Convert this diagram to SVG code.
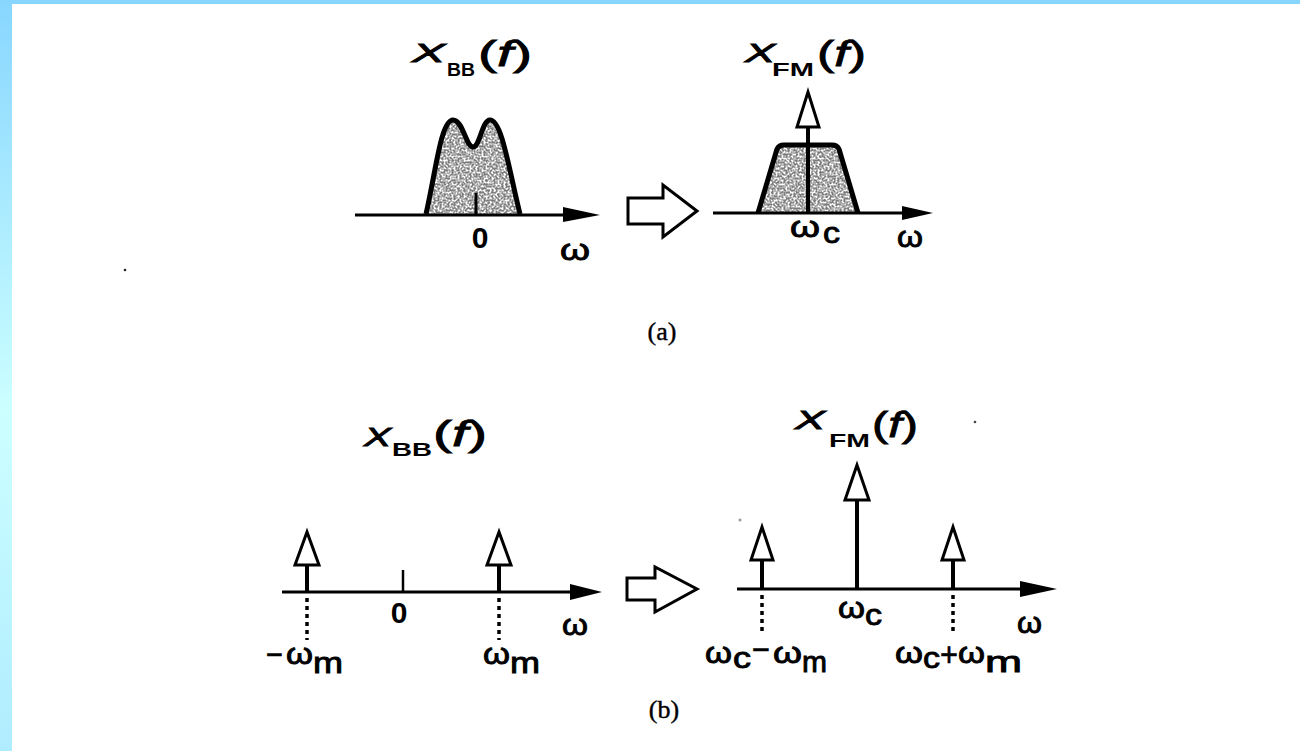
<svg xmlns="http://www.w3.org/2000/svg" width="1300" height="751" viewBox="0 0 1300 751">
<defs>
<linearGradient id="side" x1="0" y1="0" x2="0" y2="1">
<stop offset="0" stop-color="#88d6ff"/>
<stop offset="0.55" stop-color="#ccffff"/>
<stop offset="1" stop-color="#b0ecff"/>
</linearGradient>
<filter id="stip" x="0" y="0" width="1" height="1">
<feTurbulence type="fractalNoise" baseFrequency="0.5" numOctaves="2" seed="3" result="n"/>
<feColorMatrix in="n" type="matrix" values="0 0 0 0 0.2  0 0 0 0 0.2  0 0 0 0 0.2  0 0 0 -3.2 2.2" result="d"/>
<feComposite in="d" in2="SourceGraphic" operator="in"/>
</filter>
</defs>
<style>
.ax{stroke:#000;stroke-width:3;fill:none}
.stem{stroke:#000;stroke-width:4;fill:none}
.tri{fill:#fff;stroke:#000;stroke-width:3;stroke-linejoin:miter}
.head{fill:#000;stroke:none}
.dot{stroke:#000;stroke-width:3.5;stroke-dasharray:4 4;fill:none}
.hollow{fill:#fff;stroke:#000;stroke-width:3;stroke-linejoin:miter}
.shape{fill:none;stroke:#000;stroke-width:5;stroke-linejoin:round}
.lab{font-family:"Liberation Sans",Arial,sans-serif;font-size:30px;fill:#000;stroke:#000;stroke-width:0.9}
.op{font-family:"Liberation Sans",Arial,sans-serif;font-size:34px;fill:#000;stroke:#000;stroke-width:0.6}
.num{font-family:"Liberation Sans",Arial,sans-serif;font-size:30px;font-weight:bold;fill:#000}
.tx{font-family:"Liberation Sans",Arial,sans-serif;font-size:26px;font-style:italic;fill:#000;stroke:#000;stroke-width:0.9}
.sb{font-family:"Liberation Sans",Arial,sans-serif;font-size:19px;font-weight:bold;fill:#000}
.par{font-family:"Liberation Sans",Arial,sans-serif;font-size:35px;fill:#000;stroke:#000;stroke-width:0.8}
.cap{font-family:"Liberation Serif","Times New Roman",serif;font-size:26px;fill:#000;stroke:#000;stroke-width:0.4}
</style>
<rect x="0" y="0" width="1300" height="751" fill="#ffffff"/>
<rect x="0" y="0" width="1300" height="4" fill="#88d6ff"/>
<rect x="0" y="0" width="12" height="751" fill="url(#side)"/>

<g id="a-left">
<text class="tx" x="412" y="62" textLength="33" lengthAdjust="spacingAndGlyphs">X</text>
<text class="sb" x="447" y="76" textLength="28" lengthAdjust="spacingAndGlyphs">BB</text>
<text class="par" x="478" y="66" textLength="54" lengthAdjust="spacingAndGlyphs">(<tspan font-style="italic">f</tspan>)</text>
<path d="M426,214 C436,170 441,120 453,120 C463,120 466,147 473,147 C480,147 482,120 490,120 C502,120 509,170 520,214 Z" fill="#fff" filter="url(#stip)"/>
<path class="shape" d="M426,214 C436,170 441,120 453,120 C463,120 466,147 473,147 C480,147 482,120 490,120 C502,120 509,170 520,214"/>
<line class="ax" x1="355" y1="215" x2="570" y2="215"/>
<polygon class="head" points="563,207 600,215 563,222"/>
<line x1="476" y1="193" x2="476" y2="215" stroke="#000" stroke-width="3"/>
<text class="num" x="480" y="248" text-anchor="middle">0</text>
<text class="lab" x="560" y="260" textLength="30" lengthAdjust="spacingAndGlyphs">ω</text>
</g>

<g id="a-arrow">
<polygon class="hollow" points="628,198 663,198 663,185 697,211 663,237 663,224 628,224"/>
</g>

<g id="a-right">
<text class="tx" x="745" y="62" textLength="30" lengthAdjust="spacingAndGlyphs">X</text>
<text class="sb" x="772" y="76" textLength="42" lengthAdjust="spacingAndGlyphs">FM</text>
<text class="par" x="817" y="66" textLength="49" lengthAdjust="spacingAndGlyphs">(<tspan font-style="italic">f</tspan>)</text>
<path d="M758,213 L777,149 Q779,145 784,145 L832,145 Q837,145 839,149 L858,213 Z" fill="#fff" filter="url(#stip)"/>
<path class="shape" d="M758,213 L777,149 Q779,145 784,145 L832,145 Q837,145 839,149 L858,213"/>
<line class="ax" x1="713" y1="213" x2="905" y2="213"/>
<polygon class="head" points="902,206 933,213 902,220"/>
<line class="stem" x1="808" y1="213" x2="808" y2="127"/>
<polygon class="tri" points="808,92 797,127 819,127"/>
<text class="lab" x="790" y="237" textLength="30" lengthAdjust="spacingAndGlyphs">ω</text>
<text class="lab" x="823" y="243" textLength="17" lengthAdjust="spacingAndGlyphs">c</text>
<text class="lab" x="897" y="247" textLength="26" lengthAdjust="spacingAndGlyphs">ω</text>
</g>

<text class="cap" x="662" y="340" text-anchor="middle">(a)</text>

<g id="b-left">
<text class="tx" x="364" y="446" textLength="27" lengthAdjust="spacingAndGlyphs">X</text>
<text class="sb" x="392" y="456" textLength="40" lengthAdjust="spacingAndGlyphs">BB</text>
<text class="par" x="433" y="446" textLength="54" lengthAdjust="spacingAndGlyphs">(<tspan font-style="italic">f</tspan>)</text>
<line class="ax" x1="282" y1="592" x2="575" y2="592"/>
<polygon class="head" points="570,584 602,592 570,600"/>
<line class="stem" x1="307" y1="592" x2="307" y2="565"/>
<polygon class="tri" points="307,532 295,565 319,565"/>
<line class="stem" x1="499" y1="592" x2="499" y2="565"/>
<polygon class="tri" points="499,532 487,565 511,565"/>
<line x1="403" y1="570" x2="403" y2="592" stroke="#000" stroke-width="2.5"/>
<line class="dot" x1="307" y1="598" x2="307" y2="640"/>
<line class="dot" x1="499" y1="598" x2="499" y2="640"/>
<text class="num" x="399" y="623" text-anchor="middle">0</text>
<text class="lab" x="562" y="635" textLength="26" lengthAdjust="spacingAndGlyphs">ω</text>
<text class="op" x="266" y="666" textLength="17" lengthAdjust="spacingAndGlyphs">−</text>
<text class="lab" x="286" y="664" textLength="27" lengthAdjust="spacingAndGlyphs">ω</text>
<text class="lab" x="313" y="673" textLength="30" lengthAdjust="spacingAndGlyphs">m</text>
<text class="lab" x="483" y="664" textLength="27" lengthAdjust="spacingAndGlyphs">ω</text>
<text class="lab" x="510" y="673" textLength="30" lengthAdjust="spacingAndGlyphs">m</text>
</g>

<g id="b-arrow">
<polygon class="hollow" points="627,578 655,578 655,567 697,589 655,612 655,600 627,600"/>
</g>

<g id="b-right">
<text class="tx" x="795" y="429" textLength="30" lengthAdjust="spacingAndGlyphs">X</text>
<text class="sb" x="829" y="447" textLength="41" lengthAdjust="spacingAndGlyphs">FM</text>
<text class="par" x="872" y="437" textLength="46" lengthAdjust="spacingAndGlyphs">(<tspan font-style="italic">f</tspan>)</text>
<line class="ax" x1="737" y1="589" x2="1025" y2="589"/>
<polygon class="head" points="1020,581 1057,589 1020,597"/>
<line class="stem" x1="762" y1="589" x2="762" y2="560"/>
<polygon class="tri" points="762,527 751,560 773,560"/>
<line class="stem" x1="857" y1="589" x2="857" y2="500" stroke-width="5"/>
<polygon class="tri" points="857,465 845,500 869,500"/>
<line class="stem" x1="953" y1="589" x2="953" y2="560"/>
<polygon class="tri" points="953,527 942,560 964,560"/>
<line class="dot" x1="762" y1="595" x2="762" y2="634"/>
<line class="dot" x1="953" y1="595" x2="953" y2="634"/>
<text class="lab" x="838" y="618" textLength="27" lengthAdjust="spacingAndGlyphs">ω</text>
<text class="lab" x="865" y="625" textLength="17" lengthAdjust="spacingAndGlyphs">c</text>
<text class="lab" x="1017" y="633" textLength="25" lengthAdjust="spacingAndGlyphs">ω</text>
<text class="lab" x="705" y="663" textLength="27" lengthAdjust="spacingAndGlyphs">ω</text>
<text class="lab" x="733" y="668" textLength="18" lengthAdjust="spacingAndGlyphs">c</text>
<text class="op" x="752" y="661" textLength="18" lengthAdjust="spacingAndGlyphs">−</text>
<text class="lab" x="773" y="663" textLength="29" lengthAdjust="spacingAndGlyphs">ω</text>
<text class="lab" x="802" y="672" textLength="25" lengthAdjust="spacingAndGlyphs">m</text>
<text class="lab" x="895" y="663" textLength="28" lengthAdjust="spacingAndGlyphs">ω</text>
<text class="lab" x="923" y="668" textLength="17" lengthAdjust="spacingAndGlyphs">c</text>
<text class="op" x="940" y="666" textLength="18" lengthAdjust="spacingAndGlyphs">+</text>
<text class="lab" x="958" y="663" textLength="27" lengthAdjust="spacingAndGlyphs">ω</text>
<text class="lab" x="985" y="672" textLength="37" lengthAdjust="spacingAndGlyphs">m</text>
</g>

<text class="cap" x="664" y="718" text-anchor="middle" font-size="28">(b)</text>
<circle cx="125" cy="270" r="1.3" fill="#222"/>
<circle cx="975" cy="422" r="1.3" fill="#444"/>
<circle cx="740" cy="520" r="1.5" fill="#999"/>
</svg>
